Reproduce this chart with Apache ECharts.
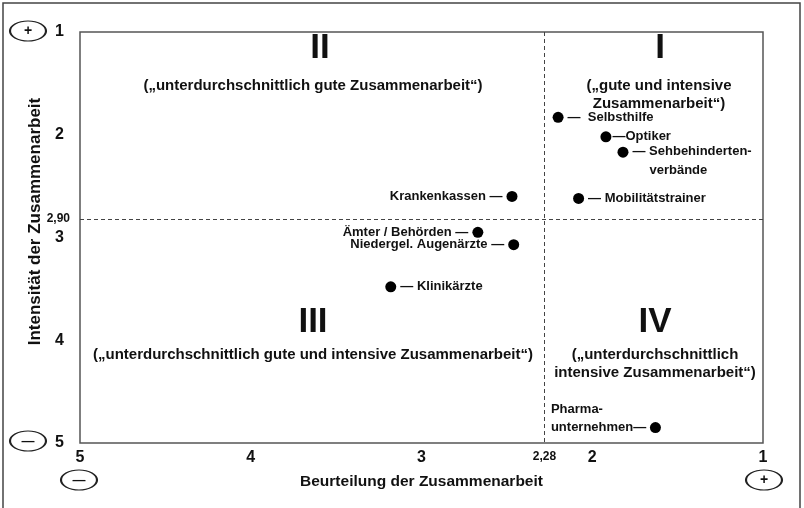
<!DOCTYPE html>
<html>
<head>
<meta charset="utf-8">
<script src="https://cdn.jsdelivr.net/npm/echarts@6/dist/echarts.min.js"></script>
<style>
  html, body { margin: 0; padding: 0; background: #fff; }
  #chart { width: 804px; height: 508px; }
</style>
</head>
<body>
<div id="chart"></div>
<script>
// Akteure
var names = ['Selbsthilfe', 'Optiker', 'Sehbehindertenverbände', 'Mobilitätstrainer',
	'Krankenkassen', 'Ämter / Behörden', 'Niedergel. Augenärzte', 'Klinikärzte', 'Pharmaunternehmen'];
// Beurteilung der Zusammenarbeit (x, 1 = gut)
var beurteilung = [2.20, 1.92, 1.82, 2.08, 2.47, 2.67, 2.46, 3.18, 1.63];
// Intensität der Zusammenarbeit (y, 1 = intensiv)
var intensitaet = [1.83, 2.02, 2.17, 2.62, 2.60, 2.95, 3.07, 3.48, 4.85];
// Mittelwerte, wie beschriftet
var meanBeurteilung = 2.28;
var meanIntensitaet = 2.90;
// wo die Linie im Original tatsächlich liegt (nicht maßstabsgetreu gezeichnet)
var lineIntensitaet = 2.82;

var fontFam = '"Liberation Sans", Arial, sans-serif';
var ink = '#111';

// Beschriftung links vom Punkt
var labelLeft = { 'Krankenkassen': 1, 'Ämter / Behörden': 1, 'Niedergel. Augenärzte': 1 };

function labelFor(name) {
	var lb = {
		show : true,
		fontFamily : fontFam,
		fontWeight : 'bold',
		fontSize : 13,
		color : ink,
		distance : 4
	};
	if (name == 'Sehbehindertenverbände') {
		lb.position = 'right';
		lb.offset = [0, 9];
		lb.formatter = '{d|— }{t|Sehbehinderten-}\n{p|}{t|verbände}';
		lb.rich = {
			d : { fontSize : 13, fontWeight : 'bold', color : ink, fontFamily : fontFam, lineHeight : 19 },
			t : { fontSize : 13, fontWeight : 'bold', color : ink, fontFamily : fontFam, lineHeight : 19 },
			p : { width : 17, lineHeight : 19 }
		};
	} else if (name == 'Pharmaunternehmen') {
		lb.position = 'left';
		lb.align = 'left';
		lb.offset = [-95, -9];
		lb.lineHeight = 18;
		lb.formatter = 'Pharma-\nunternehmen—';
	} else if (labelLeft[name]) {
		lb.position = 'left';
		lb.formatter = name + ' —';
	} else if (name == 'Optiker') {
		lb.position = 'right';
		lb.distance = 1;
		lb.formatter = '—' + name;
	} else if (name == 'Selbsthilfe') {
		lb.position = 'right';
		lb.formatter = '—  ' + name;
	} else {
		lb.position = 'right';
		lb.formatter = '— ' + name;
	}
	return lb;
}

var points = [];
for (var i = 0; i < names.length; i++) {
	points.push({
		name : names[i],
		value : [beurteilung[i], intensitaet[i]],
		label : labelFor(names[i])
	});
}

function comma(v) {
	return v.toFixed(2).replace('.', ',');
}

function ellipse(cx, cy, sign) {
	return {
		type : 'group',
		x : cx,
		y : cy,
		children : [ {
			type : 'circle',
			shape : { cx : 0, cy : 0, r : 10 },
			scaleX : 1.8,
			style : { fill : '#fff', stroke : '#222', lineWidth : 1.2, strokeNoScale : true }
		}, {
			type : 'text',
			x : 0,
			y : 0,
			style : {
				text : sign,
				fontFamily : fontFam,
				fontWeight : 'bold',
				fontSize : sign == '+' ? 14 : 13,
				fill : ink,
				align : 'center',
				verticalAlign : 'middle'
			}
		} ]
	};
}

function qText(x, y, text, size, lh) {
	return {
		type : 'text',
		x : x,
		y : y,
		style : {
			text : text,
			fontFamily : fontFam,
			fontWeight : 'bold',
			fontSize : size,
			lineHeight : lh || size,
			fill : ink,
			align : 'center',
			verticalAlign : 'middle'
		}
	};
}

var myChart = echarts.init(document.getElementById('chart'));

var option = {
	backgroundColor : '#fff',
	animation : false,
	grid : {
		left : 80,
		top : 32,
		right : 41,
		bottom : 65,
		show : true,
		borderColor : '#555',
		borderWidth : 1.5,
		backgroundColor : 'transparent'
	},
	xAxis : {
		type : 'value',
		min : 1,
		max : 5,
		interval : 1,
		inverse : true,
		name : 'Beurteilung der Zusammenarbeit',
		nameLocation : 'middle',
		nameGap : 31,
		nameTextStyle : { fontFamily : fontFam, fontWeight : 'bold', fontSize : 15.5, color : ink },
		axisLine : { show : false },
		axisTick : { show : false },
		splitLine : { show : false },
		axisLabel : { fontFamily : fontFam, fontWeight : 'bold', fontSize : 16, color : ink, margin : 7 }
	},
	yAxis : {
		type : 'value',
		min : 1,
		max : 5,
		interval : 1,
		inverse : true,
		name : 'Intensität der Zusammenarbeit',
		nameLocation : 'middle',
		nameGap : 34,
		nameTextStyle : { fontFamily : fontFam, fontWeight : 'bold', fontSize : 17, color : ink, padding : [0, 0, 0, 32] },
		axisLine : { show : false },
		axisTick : { show : false },
		splitLine : { show : false },
		axisLabel : { fontFamily : fontFam, fontWeight : 'bold', fontSize : 16, color : ink, margin : 16 }
	},
	graphic : [
		// Rahmen
		{
			type : 'rect',
			shape : { x : 3, y : 3, width : 797, height : 520 },
			style : { fill : 'none', stroke : '#444', lineWidth : 1.5 },
			z : 0
		},
		ellipse(28, 31, '+'),
		ellipse(28, 441, '—'),
		ellipse(79, 480, '—'),
		ellipse(764, 480, '+'),
		qText(320, 48, 'II', 35),
		qText(313, 86, '(„unterdurchschnittlich gute Zusammenarbeit“)', 15),
		qText(660, 48, 'I', 35),
		qText(659, 95, '(„gute und intensive\nZusammenarbeit“)', 15, 18),
		qText(313, 322, 'III', 35),
		qText(313, 355, '(„unterdurchschnittlich gute und intensive Zusammenarbeit“)', 15),
		qText(655, 322, 'IV', 35),
		qText(655, 364, '(„unterdurchschnittlich\nintensive Zusammenarbeit“)', 15, 18)
	],
	series : [ {
		type : 'scatter',
		symbol : 'circle',
		symbolSize : 11,
		itemStyle : { color : '#000', opacity : 1 },
		data : points,
		markLine : {
			silent : true,
			symbol : 'none',
			lineStyle : { type : [4, 3], color : '#444', width : 1 },
			data : [ {
				xAxis : meanBeurteilung,
				label : {
					position : 'end',
					formatter : comma(meanBeurteilung),
					fontFamily : fontFam,
					fontWeight : 'bold',
					fontSize : 12,
					color : ink,
					distance : 8
				}
			}, {
				yAxis : lineIntensitaet,
				label : {
					position : 'end',
					formatter : comma(meanIntensitaet),
					fontFamily : fontFam,
					fontWeight : 'bold',
					fontSize : 12,
					color : ink,
					distance : 10
				}
			} ]
		}
	} ]
};

myChart.setOption(option);
</script>
</body>
</html>
